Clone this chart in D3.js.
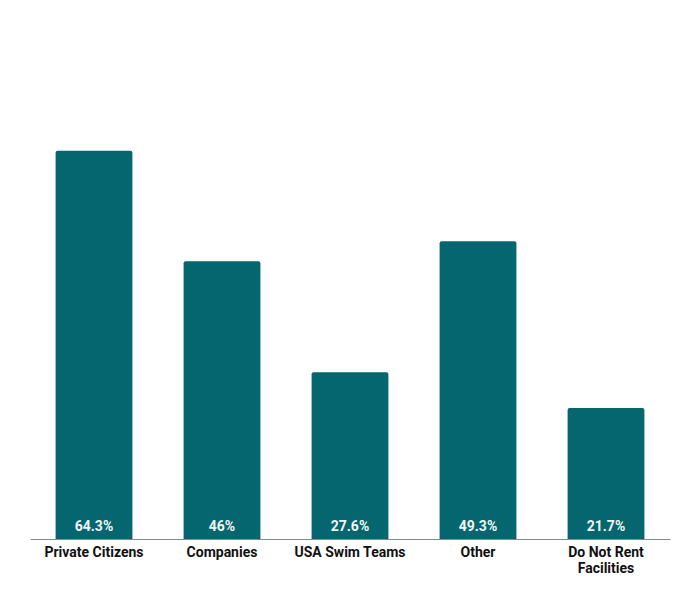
<!DOCTYPE html>
<html>
<head>
<meta charset="utf-8">
<script src="https://cdn.jsdelivr.net/npm/d3@7"></script>
<style>
  body { margin: 0; background: #fff; }
  text { font-family: Roboto, "Noto Sans", sans-serif; font-weight: 700; }
</style>
</head>
<body>
<script>
var w = 700;
var h = 590;

var categories = ["Private Citizens", "Companies", "USA Swim Teams", "Other", "Do Not Rent Facilities"];
var values = [64.3, 46, 27.6, 49.3, 21.7];
var valueLabels = ["64.3%", "46%", "27.6%", "49.3%", "21.7%"];
// how category names wrap under the axis
var categoryLines = [["Private Citizens"], ["Companies"], ["USA Swim Teams"], ["Other"], ["Do Not Rent", "Facilities"]];

var dataset = categories.map(function (c, i) {
  return { name: c, value: values[i], label: valueLabels[i], lines: categoryLines[i] };
});

var baseY = 539;

var xScale = d3.scaleBand()
  .domain(categories)
  .range([30, 670])
  .paddingInner(0.4)
  .paddingOuter(0.2);

var yScale = d3.scaleLinear()
  .domain([0, 80])
  .range([baseY, 56]);

var svg = d3.select("body").append("svg").attr("width", w).attr("height", h);

// bars with slightly rounded top corners
var r = 2;
svg.selectAll("path.bar")
  .data(dataset)
  .enter()
  .append("path")
  .attr("class", "bar")
  .attr("fill", "#05666f")
  .attr("d", function (d) {
    var x0 = xScale(d.name);
    var x1 = x0 + xScale.bandwidth();
    var y0 = yScale(d.value);
    var y1 = yScale(0);
    return "M" + x0 + "," + y1 +
      "V" + (y0 + r) +
      "Q" + x0 + "," + y0 + " " + (x0 + r) + "," + y0 +
      "H" + (x1 - r) +
      "Q" + x1 + "," + y0 + " " + x1 + "," + (y0 + r) +
      "V" + y1 + "Z";
  });

// value labels inside bars
svg.selectAll("text.val")
  .data(dataset)
  .enter()
  .append("text")
  .attr("class", "val")
  .attr("x", function (d) { return xScale(d.name) + xScale.bandwidth() / 2; })
  .attr("y", yScale(0) - 8)
  .attr("text-anchor", "middle")
  .attr("font-size", "14px")
  .attr("fill", "#f2f6f6")
  .text(function (d) { return d.label; });

// x axis
var xAxis = d3.axisBottom(xScale).tickSize(0).tickFormat("");
var gx = svg.append("g")
  .attr("transform", "translate(0," + baseY + ")")
  .call(xAxis);
gx.select(".domain").attr("stroke", "#888").attr("stroke-width", 1.2);

// category labels
var cat = svg.selectAll("text.cat")
  .data(dataset)
  .enter()
  .append("text")
  .attr("class", "cat")
  .attr("text-anchor", "middle")
  .attr("font-size", "14px")
  .attr("fill", "#111");

cat.selectAll("tspan")
  .data(function (d) {
    return d.lines.map(function (l) { return { t: l, x: xScale(d.name) + xScale.bandwidth() / 2 }; });
  })
  .enter()
  .append("tspan")
  .attr("x", function (d) { return d.x; })
  .attr("y", function (d, i) { return 557 + i * 16; })
  .text(function (d) { return d.t; });
</script>
</body>
</html>
